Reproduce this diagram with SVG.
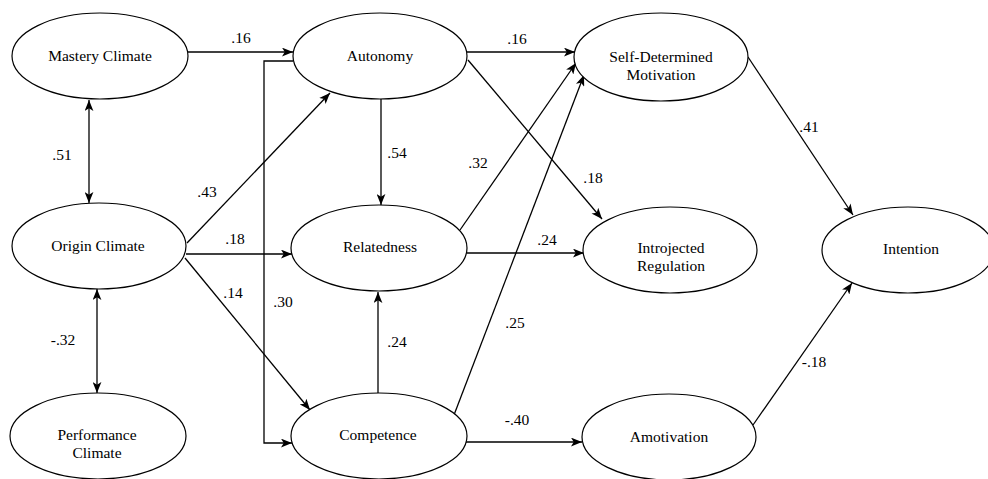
<svg xmlns="http://www.w3.org/2000/svg" width="988" height="479" viewBox="0 0 988 479">
<style>
  .node ellipse { fill: #ffffff; stroke: #000000; stroke-width: 1.2; }
  .node text { font-family: "Liberation Serif", "Times New Roman", serif; font-size: 15.5px; fill: #000000; text-anchor: middle; }
  .edges path { fill: none; stroke: #000000; stroke-width: 1.3; }
  .lbl text { font-family: "Liberation Serif", "Times New Roman", serif; font-size: 15.5px; fill: #000000; text-anchor: middle; }
</style>
<defs>
  <marker id="arr" viewBox="0 0 10 8" refX="10" refY="4" markerWidth="11" markerHeight="9" markerUnits="userSpaceOnUse" orient="auto-start-reverse">
    <path d="M0,0 L10,4 L0,8 L2.5,4 z" fill="#000000"/>
  </marker>
</defs>
<rect width="988" height="479" fill="#ffffff"/>

<g class="edges" id="connectors">
  <path d="M188,52 L293,52" marker-end="url(#arr)"/>
  <path d="M293,61 L264,61 L264,443 L292,443" marker-end="url(#arr)"/>
  <path d="M187,243 L330,93" marker-end="url(#arr)"/>
  <path d="M186,254 L292,254" marker-end="url(#arr)"/>
  <path d="M185,258 L310,410" marker-end="url(#arr)"/>
  <path d="M381,99 L381,205" marker-end="url(#arr)"/>
  <path d="M378,393 L378,292" marker-end="url(#arr)"/>
  <path d="M467,52 L575,52" marker-end="url(#arr)"/>
  <path d="M468,60 L602,219" marker-end="url(#arr)"/>
  <path d="M460,230 L576,63" marker-end="url(#arr)"/>
  <path d="M454,415 L584,75" marker-end="url(#arr)"/>
  <path d="M467,253 L584,253" marker-end="url(#arr)"/>
  <path d="M466,442 L582,442" marker-end="url(#arr)"/>
  <path d="M748,57 L853,215" marker-end="url(#arr)"/>
  <path d="M753,425 L852,283" marker-end="url(#arr)"/>
  <path d="M89,100 L89,203" marker-start="url(#arr)" marker-end="url(#arr)"/>
  <path d="M97,289 L97,393" marker-start="url(#arr)" marker-end="url(#arr)"/>
</g>

<g class="node" id="mastery"><ellipse cx="100" cy="56" rx="88" ry="43"/><text x="100" y="61">Mastery Climate</text></g>
<g class="node" id="origin"><ellipse cx="99" cy="246" rx="87" ry="43"/><text x="98" y="251">Origin Climate</text></g>
<g class="node" id="performance"><ellipse cx="98" cy="436" rx="88" ry="43"/><text x="97" y="440">Performance</text><text x="97" y="458">Climate</text></g>
<g class="node" id="autonomy"><ellipse cx="380" cy="56" rx="87" ry="43"/><text x="380" y="61">Autonomy</text></g>
<g class="node" id="relatedness"><ellipse cx="379" cy="248" rx="88" ry="43"/><text x="380" y="252">Relatedness</text></g>
<g class="node" id="competence"><ellipse cx="379" cy="436" rx="88" ry="43"/><text x="378" y="440">Competence</text></g>
<g class="node" id="selfdetermined"><ellipse cx="661" cy="57" rx="87" ry="44"/><text x="661" y="62">Self-Determined</text><text x="661" y="80">Motivation</text></g>
<g class="node" id="introjected"><ellipse cx="670" cy="250" rx="87" ry="43"/><text x="671" y="253">Introjected</text><text x="671" y="271">Regulation</text></g>
<g class="node" id="amotivation"><ellipse cx="669" cy="437" rx="87" ry="43"/><text x="669" y="442">Amotivation</text></g>
<g class="node" id="intention"><ellipse cx="908" cy="250" rx="86" ry="43"/><text x="911" y="254">Intention</text></g>

<g class="lbl" id="labels">
  <text x="241" y="43">.16</text>
  <text x="62" y="160">.51</text>
  <text x="207" y="197">.43</text>
  <text x="235" y="244">.18</text>
  <text x="233" y="298">.14</text>
  <text x="283" y="307">.30</text>
  <text x="63" y="345">-.32</text>
  <text x="397" y="158">.54</text>
  <text x="397" y="347">.24</text>
  <text x="517" y="44">.16</text>
  <text x="478" y="168">.32</text>
  <text x="593" y="183">.18</text>
  <text x="547" y="245">.24</text>
  <text x="515" y="328">.25</text>
  <text x="517" y="425">-.40</text>
  <text x="809" y="132">.41</text>
  <text x="814" y="367">-.18</text>
</g>
</svg>
